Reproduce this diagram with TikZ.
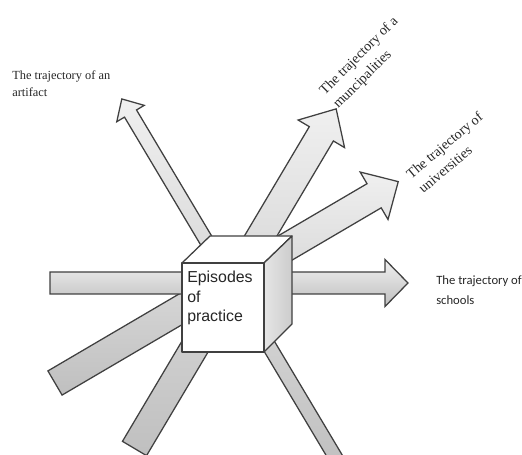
\documentclass[tikz,border=0pt]{standalone}
\usepackage{fontspec}
\setmainfont{Liberation Serif}
\setsansfont{Liberation Sans}
\newfontfamily\calibrifont{Carlito}

\tikzset{
  arrowbody/.style={draw=black!75, line width=0.9pt, line join=miter, top color=gray!12, bottom color=gray!50},
  cubeline/.style={draw=black!75, line width=0.9pt, line join=round},
  trajlabel/.style={font=\fontsize{10}{13.5}\selectfont, text=black!85, align=left, inner sep=0pt},
}
% tail point, angle, length, shaft width, head width, head length
\newcommand{\fatarrow}[6]{%
  \begin{scope}[shift={(#1)}, rotate=#2]
    \draw[arrowbody] (0,-#4/2) -- (#3-#6,-#4/2) -- (#3-#6,-#5/2) -- (#3,0)
      -- (#3-#6,#5/2) -- (#3-#6,#4/2) -- (0,#4/2) -- cycle;
  \end{scope}}

\begin{document}
\begin{tikzpicture}[x=0.025cm, y=0.025cm]
\useasboundingbox (0,0) rectangle (522,455);
\clip (0,0) rectangle (522,455);

% arrows behind the cube
\fatarrow{343,-15}{120.8}{432}{14}{32}{17}
\fatarrow{134.5,6.5}{59.3}{395}{28}{54}{29}
\fatarrow{55,72}{30.4}{398}{28}{55}{28}
\fatarrow{50,172}{0}{358}{22}{47}{23}

% cube
\coordinate (fbl) at (182,103);
\coordinate (fbr) at (264,103);
\coordinate (ftr) at (264,192);
\coordinate (ftl) at (182,192);
\coordinate (btl) at (210,219);
\coordinate (btr) at (292,219);
\coordinate (bbr) at (292,131);
\draw[cubeline, fill=white] (ftl) -- (btl) -- (btr) -- (ftr) -- cycle;
\draw[cubeline, left color=gray!20, right color=gray!40] (fbr) -- (ftr) -- (btr) -- (bbr) -- cycle;
\draw[cubeline, fill=white] (fbl) rectangle (ftr);
\node[anchor=north west, inner sep=0pt, align=left, text=black!85,
  font=\sffamily\fontsize{11.3}{13.8}\selectfont] (episodes) at (187,184) {Episodes\\of\\practice};

% labels
\node[trajlabel, font=\fontsize{8.8}{11.5}\selectfont, anchor=north west] (artifact) at (12,384) {The trajectory of an\\artifact};
\node[trajlabel, font=\calibrifont\fontsize{9}{14}\selectfont, anchor=west] (schools) at (436,165) {The trajectory of\\schools};
\node[trajlabel, rotate=45, anchor=west] (muni) at (329,355) {The trajectory of a\\muncipalities};
\node[trajlabel, rotate=40, anchor=west] (univ) at (414,272) {The trajectory of\\universities};
\end{tikzpicture}
\end{document}
